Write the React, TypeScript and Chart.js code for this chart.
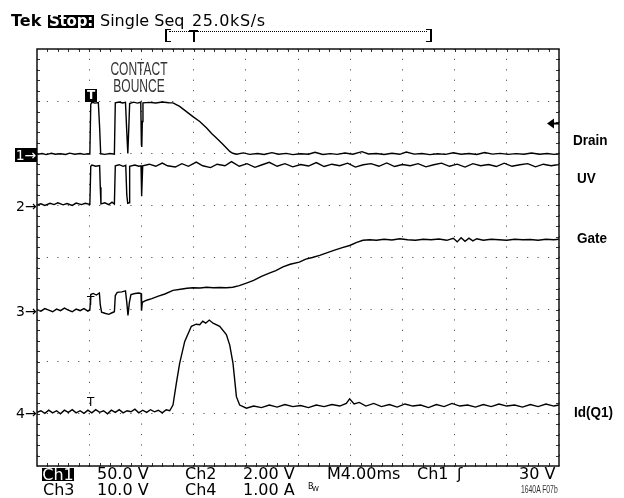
import React, { useEffect, useRef } from "react";
import { Chart, registerables } from "chart.js";

Chart.register(...registerables);

// ---- time base (ms, trigger at 0), 4 ms/div, 10 divisions ----
const timeMin = -4;
const timeMax = 36;
const msPerDiv = 4;

// ---- channels ----
const channelIds = ["c1", "c2", "c3", "c4"];
const channelLabels = ["Drain", "UV", "Gate", "Id(Q1)"];
const unitsPerDiv = [50, 2, 10, 1]; // 50V, 2V, 10V, 1A per div
const groundDiv = [5.97, 5.0, 2.99, 1.02]; // ground marker, divisions above bottom
const triggerLevel = 30; // Ch1, volts

// ---- Ch1 : Drain (V) ----
const drainT = [-4.0, -3.6, -3.3, -2.9, -2.6, -2.2, -1.8, -1.5, -1.1, -0.7, -0.4, -0.1, 0.05, 0.12, 0.2, 0.45, 0.7, 0.8, 0.88, 1.2, 1.6, 1.93, 2.0, 2.3, 2.55, 2.78, 2.88, 2.96, 3.04, 3.1, 3.4, 3.7, 3.95, 4.0, 4.03, 4.07, 4.12, 4.6, 5.1, 5.6, 6.1, 6.42, 6.93, 7.5, 8.0, 8.47, 9.0, 9.4, 9.75, 10.2, 10.5, 10.77, 11.0, 11.3, 11.8, 12.3, 12.9, 13.4, 14.0, 14.5, 15.1, 15.6, 16.2, 16.8, 17.3, 17.9, 18.5, 19.0, 19.6, 20.2, 20.9, 21.4, 22.0, 22.6, 23.2, 23.8, 24.3, 24.9, 25.5, 26.1, 26.7, 27.3, 27.9, 28.5, 29.1, 29.7, 30.3, 30.9, 31.5, 32.1, 32.7, 33.3, 33.9, 34.5, 35.1, 35.6, 36.0];
const drainV = [0.4, 1.2, 0.2, 1.5, 0.5, 1.0, 0.3, 1.6, 0.6, 1.3, 0.4, 1.0, 0.8, 48.5, 50.3, 49.6, 50.2, 26, 1.0, 0.4, 1.2, 0.6, 49.8, 50.6, 49.7, 50.3, 22, 1.2, 28, 49.2, 50.5, 49.6, 50.4, 10, 7.5, 32, 49.8, 50.3, 49.7, 50.6, 49.9, 49.8, 46.4, 41.0, 36.2, 32.0, 25.8, 20.2, 16.2, 10.6, 6.8, 3.2, 1.5, 0.5, 1.8, 0.4, 1.2, 0.3, 2.1, 0.6, 1.4, 0.2, 1.0, 0.5, 2.4, 0.3, 1.1, 0.4, 1.7, 0.6, 3.0, 0.8, 1.2, 0.3, 1.5, 0.5, 2.6, 0.7, 1.3, 0.2, 1.0, 0.4, 1.9, 0.6, 1.2, 0.3, 2.2, 0.7, 1.4, 0.4, 1.1, 0.5, 1.8, 0.6, 1.3, 0.4, 0.8];

// ---- Ch2 : UV (V) ----
const uvT = [-4.0, -3.7, -3.4, -3.0, -2.7, -2.4, -2.0, -1.7, -1.3, -1.0, -0.6, -0.3, 0.05, 0.12, 0.2, 0.5, 0.8, 0.85, 0.9, 1.2, 1.5, 1.75, 1.93, 2.0, 2.3, 2.6, 2.8, 2.88, 2.95, 3.05, 3.1, 3.5, 3.8, 3.97, 4.0, 4.04, 4.1, 4.6, 5.1, 5.6, 6.0, 6.6, 7.1, 7.6, 8.2, 8.7, 9.3, 9.8, 10.4, 10.9, 11.5, 12.1, 12.7, 13.2, 13.8, 14.4, 15.0, 15.6, 16.2, 16.8, 17.4, 18.0, 18.6, 19.2, 19.8, 20.4, 21.0, 21.6, 22.2, 22.8, 23.4, 24.0, 24.6, 25.2, 25.8, 26.4, 27.0, 27.6, 28.2, 28.8, 29.4, 30.0, 30.6, 31.2, 31.8, 32.4, 33.0, 33.6, 34.2, 34.8, 35.4, 36.0];
const uvV = [0.02, 0.06, 0.0, 0.08, 0.03, 0.1, 0.02, 0.07, 0.0, 0.09, 0.03, 0.08, 0.04, 1.5, 1.55, 1.5, 1.53, 0.7, 0.06, 0.1, 0.03, 0.12, 0.05, 1.52, 1.56, 1.5, 1.54, 0.4, 0.08, 0.1, 1.5, 1.55, 1.5, 1.52, 0.35, 0.4, 1.52, 1.58, 1.5, 1.62, 1.52, 1.47, 1.6, 1.5, 1.66, 1.52, 1.45, 1.58, 1.52, 1.68, 1.5, 1.6, 1.46, 1.55, 1.65, 1.5, 1.6, 1.48, 1.57, 1.51, 1.64, 1.49, 1.58, 1.52, 1.62, 1.47, 1.56, 1.6, 1.5, 1.63, 1.49, 1.57, 1.52, 1.6, 1.48, 1.56, 1.62, 1.5, 1.58, 1.47, 1.6, 1.52, 1.57, 1.49, 1.62, 1.5, 1.56, 1.6, 1.48, 1.58, 1.52, 1.57];

// ---- Ch3 : Gate (V) ----
const gateT = [-4.0, -3.7, -3.4, -3.1, -2.8, -2.5, -2.2, -1.9, -1.6, -1.3, -1.0, -0.7, -0.4, -0.1, 0.05, 0.12, 0.3, 0.55, 0.78, 0.85, 0.95, 1.2, 1.5, 1.75, 1.93, 2.0, 2.15, 2.5, 2.78, 2.88, 2.97, 3.08, 3.2, 3.5, 3.8, 3.97, 4.01, 4.07, 4.4, 4.8, 5.3, 5.8, 6.42, 7.0, 7.5, 7.95, 8.5, 9.0, 9.5, 10.0, 10.5, 11.0, 11.5, 12.05, 12.6, 13.2, 13.8, 14.3, 14.85, 15.4, 16.1, 16.6, 17.1, 17.66, 18.2, 18.8, 19.4, 19.96, 20.5, 20.98, 21.5, 22.0, 22.6, 23.2, 23.8, 24.4, 25.0, 25.6, 26.2, 26.8, 27.4, 27.9, 28.2, 28.5, 28.8, 29.1, 29.4, 29.7, 30.2, 30.8, 31.4, 32.0, 32.6, 33.2, 33.8, 34.4, 35.0, 35.6, 36.0];
const gateV = [0.1, -0.2, 0.3, 0.0, -0.3, 0.2, -0.1, 0.4, 0.0, -0.3, 0.2, -0.1, 0.3, -0.2, 0.0, 3.0, 3.2, 2.9, 3.3, 1.0, -0.4, -0.6, -0.8, -0.5, -0.3, 2.8, 3.4, 3.5, 3.7, 1.5, -1.0, 1.5, 3.0, 3.2, 3.3, 3.2, -0.1, 1.5, 1.9, 2.2, 2.7, 3.1, 3.8, 4.0, 4.2, 4.3, 4.25, 4.4, 4.3, 4.35, 4.3, 4.4, 4.7, 5.2, 5.7, 6.5, 7.1, 7.6, 8.3, 8.8, 9.2, 9.8, 10.1, 10.5, 11.0, 11.5, 12.0, 12.4, 13.0, 13.4, 13.5, 13.4, 13.6, 13.45, 13.7, 13.5, 13.4, 13.6, 13.5, 13.65, 13.4, 13.8, 13.1, 13.9, 13.2, 13.8, 13.3, 13.7, 13.4, 13.6, 13.5, 13.4, 13.6, 13.5, 13.55, 13.4, 13.6, 13.5, 13.6];

// ---- Ch4 : Id(Q1) (A) ----
const idT = [-4.0, -3.7, -3.4, -3.1, -2.8, -2.5, -2.2, -1.9, -1.6, -1.3, -1.0, -0.7, -0.4, -0.1, 0.2, 0.5, 0.8, 1.1, 1.4, 1.7, 2.0, 2.3, 2.6, 2.9, 3.2, 3.5, 3.8, 4.1, 4.4, 4.7, 5.0, 5.3, 5.6, 5.9, 6.17, 6.42, 6.68, 6.93, 7.32, 7.83, 8.2, 8.47, 8.7, 8.93, 9.2, 9.49, 10.0, 10.51, 10.77, 11.02, 11.28, 11.53, 12.05, 12.6, 13.2, 13.8, 14.4, 15.0, 15.6, 16.2, 16.8, 17.4, 18.0, 18.6, 19.2, 19.7, 19.96, 20.3, 20.7, 21.2, 21.8, 22.4, 23.0, 23.6, 24.2, 24.8, 25.4, 26.0, 26.6, 27.2, 27.8, 28.4, 29.0, 29.6, 30.2, 30.8, 31.4, 32.0, 32.6, 33.2, 33.8, 34.4, 35.0, 35.6, 36.0];
const idA = [0.01, 0.04, -0.01, 0.05, 0.0, 0.04, -0.02, 0.05, 0.01, 0.06, 0.0, 0.04, -0.01, 0.05, 0.0, 0.06, 0.01, 0.04, -0.02, 0.05, 0.01, 0.06, 0.0, 0.04, 0.02, 0.07, 0.0, 0.05, 0.01, 0.06, 0.02, 0.05, 0.0, 0.06, 0.04, 0.15, 0.57, 0.95, 1.37, 1.66, 1.7, 1.69, 1.76, 1.72, 1.78, 1.72, 1.66, 1.5, 1.3, 0.95, 0.31, 0.15, 0.09, 0.13, 0.1, 0.15, 0.11, 0.16, 0.12, 0.14, 0.1, 0.15, 0.12, 0.16, 0.13, 0.18, 0.27, 0.17, 0.2, 0.13, 0.18, 0.12, 0.16, 0.11, 0.17, 0.13, 0.15, 0.1, 0.16, 0.12, 0.18, 0.13, 0.15, 0.11, 0.16, 0.12, 0.17, 0.13, 0.15, 0.11, 0.16, 0.12, 0.17, 0.13, 0.15];

const seriesT = [drainT, uvT, gateT, idT];
const seriesY = [drainV, uvV, gateV, idA];

const scopePlugin = {
  id: "scopeFrame",
  afterDraw(chart: any) {
    const { ctx, chartArea: a, scales } = chart;
    const xs = scales.x;
    const yg = scales.yg;
    const c1 = scales.c1;
    ctx.save();
    // minor ticks on frame (1/5 division)
    ctx.strokeStyle = "#333";
    ctx.lineWidth = 1;
    ctx.beginPath();
    for (let i = 1; i < 50; i++) {
      const px = Math.round(xs.getPixelForValue(timeMin + (i * msPerDiv) / 5)) + 0.5;
      ctx.moveTo(px, a.top);
      ctx.lineTo(px, a.top + 3);
      ctx.moveTo(px, a.bottom);
      ctx.lineTo(px, a.bottom - 3);
    }
    for (let j = 1; j < 40; j++) {
      const py = Math.round(yg.getPixelForValue(j * 0.2)) + 0.5;
      ctx.moveTo(a.left, py);
      ctx.lineTo(a.left + 3, py);
      ctx.moveTo(a.right, py);
      ctx.lineTo(a.right - 3, py);
    }
    ctx.stroke();
    // frame
    ctx.lineWidth = 1.5;
    ctx.strokeStyle = "#111";
    ctx.strokeRect(a.left, a.top, a.right - a.left, a.bottom - a.top);
    // trigger level arrow (Ch1)
    const ty = c1.getPixelForValue(triggerLevel);
    ctx.fillStyle = "#000";
    ctx.beginPath();
    ctx.moveTo(a.right - 12, ty);
    ctx.lineTo(a.right - 5, ty - 5);
    ctx.lineTo(a.right - 5, ty + 5);
    ctx.closePath();
    ctx.fill();
    ctx.fillRect(a.right - 5, ty - 1, 5, 2);
    ctx.restore();
  },
};

const abs = (style: React.CSSProperties): React.CSSProperties => ({
  position: "absolute",
  whiteSpace: "pre",
  margin: 0,
  padding: 0,
  ...style,
});

const dv = "'DejaVu Sans', sans-serif";
const lib = "'Liberation Sans', Arial, sans-serif";

export default function App() {
  const ref = useRef<HTMLCanvasElement | null>(null);

  useEffect(() => {
    if (!ref.current) return;
    const scales: any = {
      x: {
        type: "linear",
        min: timeMin,
        max: timeMax,
        ticks: { display: false, stepSize: msPerDiv },
        grid: { color: "#555", lineWidth: 1, drawTicks: false },
        border: { display: false, dash: [1.2, 9.22], dashOffset: 0.6 },
      },
      yg: {
        type: "linear",
        position: "left",
        min: 0,
        max: 8,
        ticks: { display: false, stepSize: 1 },
        grid: { color: "#555", lineWidth: 1, drawTicks: false },
        border: { display: false, dash: [1.2, 9.24], dashOffset: 0.6 },
      },
    };
    channelIds.forEach((id, k) => {
      scales[id] = {
        type: "linear",
        display: false,
        min: -groundDiv[k] * unitsPerDiv[k],
        max: (8 - groundDiv[k]) * unitsPerDiv[k],
      };
    });
    const chart = new Chart(ref.current, {
      type: "line",
      data: {
        datasets: channelIds.map((id, k) => ({
          label: channelLabels[k],
          yAxisID: id,
          data: seriesT[k].map((t, i) => ({ x: t, y: seriesY[k][i] })),
          borderColor: "#000",
          borderWidth: 1.4,
          pointRadius: 0,
          tension: 0,
          fill: false,
        })),
      },
      options: {
        animation: false,
        responsive: false,
        events: [],
        layout: { padding: { left: 37, top: 49, right: 65, bottom: 32 } },
        plugins: { legend: { display: false }, tooltip: { enabled: false } },
        scales,
      },
      plugins: [scopePlugin],
    } as any);
    return () => chart.destroy();
  }, []);

  const hdr: React.CSSProperties = { fontFamily: dv, fontSize: 16, lineHeight: "16px", color: "#000" };
  const lbl: React.CSSProperties = {
    fontFamily: lib,
    fontWeight: "bold",
    fontSize: 15,
    lineHeight: "15px",
    color: "#000",
    transform: "scaleX(0.9)",
    transformOrigin: "left top",
  };
  const mark: React.CSSProperties = { fontFamily: dv, fontSize: 14, lineHeight: "14px", color: "#000" };

  return (
    <div style={abs({ left: 0, top: 0, width: 624, height: 498, background: "#fff", overflow: "hidden" })}>
      <canvas ref={ref} width={624} height={498} style={{ position: "absolute", left: 0, top: 0 }} />

      {/* header */}
      <div style={abs({ ...hdr, left: 11, top: 13, fontWeight: "bold" })}>Tek</div>
      <div style={abs({ left: 48, top: 15, width: 46, height: 13, background: "#000", color: "#fff", fontFamily: dv, fontWeight: "bold", fontSize: 15, lineHeight: "13px", letterSpacing: "-0.2px", overflow: "hidden", textAlign: "center" })}>Stop:</div>
      <div style={abs({ ...hdr, left: 100, top: 13 })}>Single Seq</div>
      <div style={abs({ ...hdr, left: 192, top: 13, letterSpacing: "0.6px" })}>25.0kS/s</div>

      {/* record-length bracket */}
      <div style={abs({ left: 165, top: 29, width: 4, height: 11, borderLeft: "2px solid #000", borderTop: "1px solid #000", borderBottom: "1px solid #000" })} />
      <div style={abs({ left: 169, top: 31, width: 258, height: 0, borderTop: "1px dotted #000" })} />
      <div style={abs({ left: 189, top: 30, width: 9, height: 2, background: "#000" })} />
      <div style={abs({ left: 192.5, top: 30, width: 2, height: 12, background: "#000" })} />
      <div style={abs({ left: 426, top: 29, width: 4, height: 11, borderRight: "2px solid #000", borderTop: "1px solid #000", borderBottom: "1px solid #000" })} />

      {/* annotation */}
      <div style={abs({ left: 139, top: 59.7, fontFamily: lib, fontSize: 18, lineHeight: "18px", color: "#333", transform: "translateX(-50%) scaleX(0.667)" })}>CONTACT</div>
      <div style={abs({ left: 139, top: 76.7, fontFamily: lib, fontSize: 18, lineHeight: "18px", color: "#333", transform: "translateX(-50%) scaleX(0.667)" })}>BOUNCE</div>

      {/* trigger markers */}
      <div style={abs({ left: 85, top: 89, width: 12, height: 13, background: "#000", color: "#fff", fontFamily: dv, fontWeight: "bold", fontSize: 12, lineHeight: "13px", textAlign: "center" })}>T</div>
      <div style={abs({ left: 87, top: 294.6, fontFamily: dv, fontSize: 12, lineHeight: "12px", color: "#000" })}>T</div>
      <div style={abs({ left: 87, top: 395.6, fontFamily: dv, fontSize: 12, lineHeight: "12px", color: "#000" })}>T</div>

      {/* channel ground markers */}
      <div style={abs({ left: 15, top: 148, width: 22, height: 14, background: "#000", color: "#fff", fontFamily: dv, fontSize: 14, lineHeight: "14px", textAlign: "center" })}>1→</div>
      <div style={abs({ ...mark, left: 16, top: 199.3 })}>2→</div>
      <div style={abs({ ...mark, left: 16, top: 304.3 })}>3→</div>
      <div style={abs({ ...mark, left: 16, top: 406.3 })}>4→</div>

      {/* trace labels */}
      <div style={abs({ ...lbl, left: 573, top: 131.5 })}>{channelLabels[0]}</div>
      <div style={abs({ ...lbl, left: 577, top: 169.6 })}>{channelLabels[1]}</div>
      <div style={abs({ ...lbl, left: 577, top: 230 })}>{channelLabels[2]}</div>
      <div style={abs({ ...lbl, left: 574, top: 403.6 })}>{channelLabels[3]}</div>

      {/* footer readouts */}
      <div style={abs({ left: 42, top: 468, width: 32, height: 13, background: "#000", color: "#fff", fontFamily: dv, fontSize: 16, lineHeight: "13px", overflow: "hidden", textAlign: "center" })}>Ch1</div>
      <div style={abs({ ...hdr, left: 97, top: 466 })}>50.0 V</div>
      <div style={abs({ ...hdr, left: 185, top: 466 })}>Ch2</div>
      <div style={abs({ ...hdr, left: 243, top: 466 })}>2.00 V</div>
      <div style={abs({ ...hdr, left: 327, top: 466 })}>M4.00ms</div>
      <div style={abs({ ...hdr, left: 417, top: 466 })}>Ch1</div>
      <div style={abs({ ...hdr, left: 457, top: 466 })}>ʃ</div>
      <div style={abs({ ...hdr, left: 519, top: 466 })}>30 V</div>

      <div style={abs({ ...hdr, left: 43, top: 482 })}>Ch3</div>
      <div style={abs({ ...hdr, left: 97, top: 482 })}>10.0 V</div>
      <div style={abs({ ...hdr, left: 185, top: 482 })}>Ch4</div>
      <div style={abs({ ...hdr, left: 243, top: 482 })}>1.00 A</div>
      <div style={abs({ left: 308, top: 483, fontFamily: dv, fontSize: 8, lineHeight: "8px", color: "#000" })}>B</div>
      <div style={abs({ left: 312, top: 486, fontFamily: dv, fontSize: 7, lineHeight: "7px", color: "#000" })}>W</div>
      <div style={abs({ left: 521, top: 485, fontFamily: lib, fontSize: 10, lineHeight: "10px", color: "#333", transform: "scaleX(0.68)", transformOrigin: "left top" })}>1640A F07b</div>
    </div>
  );
}
